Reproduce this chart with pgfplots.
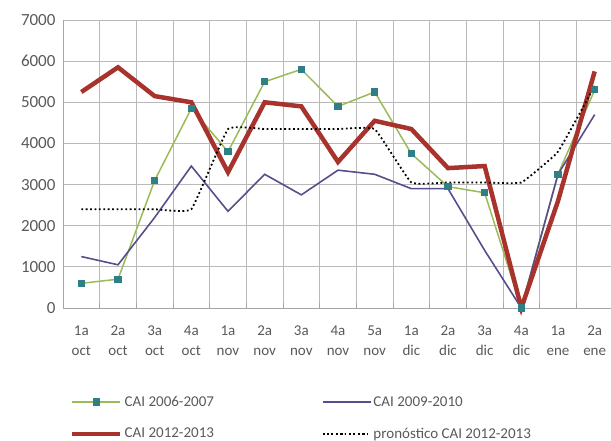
\documentclass[border=0pt]{standalone}
\usepackage{pgfplots}
\pgfplotsset{compat=1.18}
\usepackage{fontspec}
\setmainfont{Carlito}
\definecolor{cgreen}{HTML}{9BBB59}
\definecolor{cmark}{HTML}{2F7F86}
\definecolor{cblue}{HTML}{55508C}
\definecolor{cred}{HTML}{A8322C}
\definecolor{ctxt}{HTML}{595959}
\begin{document}
\begin{tikzpicture}[x=1pt,y=1pt]
\useasboundingbox (-63,-133) rectangle (548,20+288);
\begin{axis}[
  at={(0,0)}, anchor=south west,
  scale only axis, width=550pt, height=288pt,
  xmin=-0.5, xmax=14.5, ymin=0, ymax=7000,
  xtick={0,...,14},
  xticklabels={1a\\oct,2a\\oct,3a\\oct,4a\\oct,1a\\nov,2a\\nov,3a\\nov,4a\\nov,5a\\nov,1a\\dic,2a\\dic,3a\\dic,4a\\dic,1a\\ene,2a\\ene},
  xticklabel style={align=center, font=\fontsize{15}{20}\selectfont, text=ctxt, yshift=-14pt},
  yticklabel style={font=\fontsize{17}{18}\selectfont, text=ctxt, xshift=-4pt},
  ytick={0,1000,...,7000},
  /pgf/number format/assume math mode=true,
  /pgf/number format/1000 sep={},
  major tick length=0pt,
  minor xtick={-0.5,0.5,...,14.5},
  minor tick length=5pt,
  xminorgrids, ymajorgrids,
  grid style={color=gray!55, line width=0.8pt},
  minor grid style={color=gray!55, line width=0.8pt},
  axis line style={color=gray!70, line width=0.8pt},
  tick style={color=gray!70, line width=0.8pt},
  axis x line*=bottom, axis y line*=left,
  clip=false,
  legend columns=2,
  legend cell align=left,
  legend style={at={(7/550,-86/288)}, anchor=north west, draw=none, fill=none,
    font=\fontsize{15}{18}\selectfont, text=ctxt, row sep=16pt, inner sep=0pt},
  legend image code/.code={\draw[mark repeat=2,mark phase=2,#1] plot coordinates {(0pt,0pt)(24pt,0pt)(48pt,0pt)};},
]
\addplot[color=cgreen, line width=1.5pt, mark=square*, mark size=2.8pt, mark options={fill=cmark, draw=cmark}]
 coordinates {(0,600)(1,700)(2,3100)(3,4850)(4,3800)(5,5500)(6,5800)(7,4900)(8,5250)(9,3750)(10,2950)(11,2800)(12,0)(13,3250)(14,5300)};
\addlegendentry{\makebox[195pt][l]{CAI 2006-2007}}
\addplot[color=cblue, line width=1.6pt, mark=none]
 coordinates {(0,1250)(1,1050)(2,2200)(3,3450)(4,2350)(5,3250)(6,2750)(7,3350)(8,3250)(9,2900)(10,2900)(11,1400)(12,0)(13,3250)(14,4700)};
\addlegendentry{CAI 2009-2010}
\addplot[color=cred, line width=4.5pt, mark=none, line join=miter]
 coordinates {(0,5250)(1,5850)(2,5150)(3,5000)(4,3300)(5,5000)(6,4900)(7,3550)(8,4550)(9,4350)(10,3400)(11,3450)(12,0)(13,2600)(14,5750)};
\addlegendentry{\makebox[195pt][l]{CAI 2012-2013}}
\addplot[color=black, line width=1.8pt, dash pattern=on 1.8pt off 2.6pt, smooth, tension=0.18, mark=none]
 coordinates {(0,2400)(1,2400)(2,2400)(3,2400)(4,4350)(5,4350)(6,4350)(7,4350)(8,4350)(9,3050)(10,3050)(11,3050)(12,3050)(13,3800)(14,5400)};
\addlegendentry{pronóstico CAI 2012-2013}
\end{axis}
\end{tikzpicture}
\end{document}
